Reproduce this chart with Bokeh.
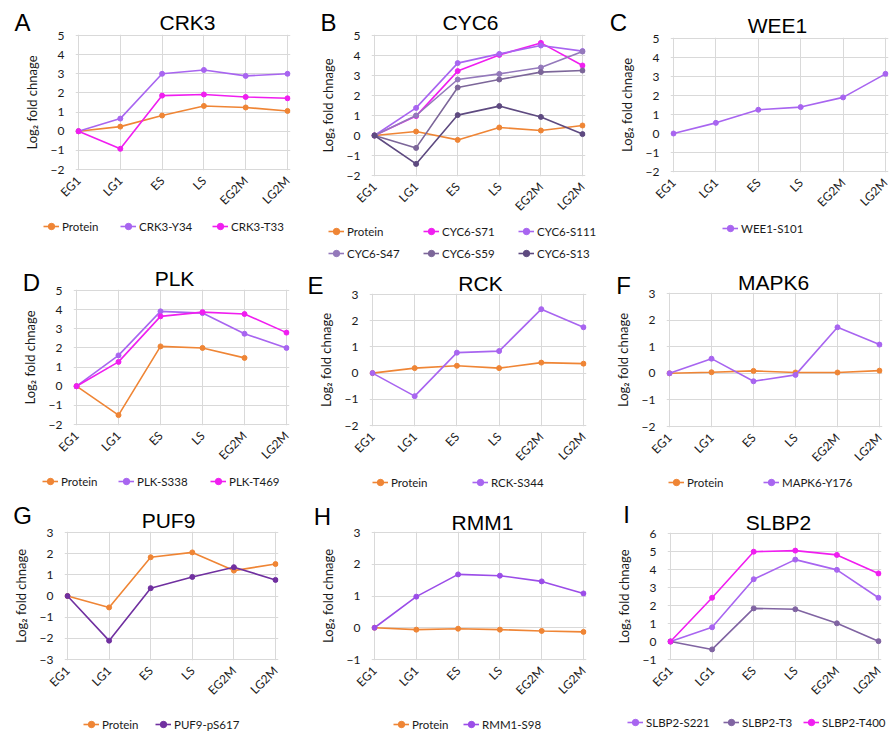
import math
import numpy as np
from bokeh.plotting import figure
from bokeh.models import FixedTicker, Label, Legend, LegendItem, Range1d, Plot
from bokeh.layouts import column, row
from bokeh.embed import file_html
from bokeh.resources import INLINE

# ---------------- data ----------------
stages = ["EG1", "LG1", "ES", "LS", "EG2M", "LG2M"]

crk3_protein = [0, 0.24, 0.82, 1.32, 1.24, 1.06]
crk3_y34 = [0, 0.66, 3.00, 3.20, 2.89, 3.00]
crk3_t33 = [0, -0.92, 1.86, 1.92, 1.79, 1.72]

cyc6_protein = [0, 0.20, -0.22, 0.40, 0.25, 0.50]
cyc6_s71 = [0, 0.97, 3.22, 4.03, 4.63, 3.50]
cyc6_s111 = [0, 1.38, 3.62, 4.08, 4.50, 4.22]
cyc6_s47 = [0, 1.00, 2.80, 3.08, 3.40, 4.20]
cyc6_s59 = [0, -0.62, 2.40, 2.80, 3.17, 3.25]
cyc6_s13 = [0, -1.42, 1.02, 1.47, 0.93, 0.07]

wee1_s101 = [0, 0.56, 1.25, 1.39, 1.90, 3.14]

plk_protein = [0, -1.51, 2.08, 2.00, 1.48, np.nan]
plk_s338 = [0, 1.61, 3.91, 3.82, 2.74, 2.00]
plk_t469 = [0, 1.27, 3.65, 3.87, 3.77, 2.80]

rck_protein = [0, 0.19, 0.28, 0.19, 0.40, 0.36]
rck_s344 = [0, -0.88, 0.78, 0.84, 2.44, 1.75]

mapk6_protein = [0, 0.04, 0.09, 0.03, 0.03, 0.10]
mapk6_y176 = [0, 0.55, -0.30, -0.06, 1.73, 1.08]

puf9_protein = [0, -0.54, 1.83, 2.06, 1.20, 1.51]
puf9_ps617 = [0, -2.11, 0.37, 0.90, 1.36, 0.76]

rmm1_protein = [0, -0.06, -0.03, -0.06, -0.10, -0.13]
rmm1_s98 = [0, 0.98, 1.68, 1.64, 1.46, 1.08]

slbp2_s221 = [0, 0.79, 3.46, 4.55, 3.98, 2.43]
slbp2_t3 = [0, -0.44, 1.84, 1.79, 1.01, 0.02]
slbp2_t400 = [0, 2.43, 4.99, 5.05, 4.81, 3.78]

# ---------------- styles ----------------
ORANGE = "#ef8535"
MAGENTA = "#f01ef0"
LPURPLE = "#a865f0"
PURPLE_S47 = "#9479bb"
PURPLE_S59 = "#7c6699"
PURPLE_S13 = "#5e4a80"
GPURPLE = "#8064a2"
DPURPLE = "#7030a0"
RPURPLE = "#9b4de8"
GRID = "#d9d9d9"
TXT = "#1a1a1a"

# layout in page pixels
COLS = [(0, 295), (295, 301), (596, 294)]
ROWS = [(0, 260), (260, 240), (500, 232)]
PX, PY = 3, 1
TOPB = 8      # room above the plot frame for the top tick label
OV = 16       # header strip extends under the (transparent) top of the chart
FA = {"frame_align": False} if "frame_align" in Plot.properties() else {}


def blank_fig(w, h):
    f = figure(width=w, height=h, x_range=Range1d(0, w), y_range=Range1d(0, h),
               x_axis_type=None, y_axis_type=None, title=None, min_border=0,
               toolbar_location=None, output_backend="svg", **FA)
    f.outline_line_color = None
    f.background_fill_color = "white"
    f.border_fill_color = "white"
    return f


def make_cell(letter, title, series, ylo, yhi, col, rw, frame,
              letter_pos, title_pos, legend_rows):
    cx, cw = COLS[col]
    ry, rh = ROWS[rw]
    fl, ft, fr, fb = frame
    ppx = (fr - fl) / 5.0
    ppy = (fb - ft) / float(yhi - ylo)
    al, at, ar, ab = fl - PX, ft - PY, fr + PX, fb + PY
    main_top = at - TOPB
    leg_top = min(y for y, _ in legend_rows) - 10
    hh = main_top + OV - ry
    mh = leg_top - main_top
    lh = ry + rh - leg_top

    # ---- header: panel letter + gene name
    head = blank_fig(cw, hh)
    head.add_layout(Label(x=letter_pos[0] - cx, y=hh - (letter_pos[1] - ry),
                          text=letter, text_align="center",
                          text_baseline="middle", text_font="Liberation Sans",
                          text_font_size="24px", text_color="black"))
    head.add_layout(Label(x=title_pos[0] - cx, y=hh - (title_pos[1] - ry),
                          text=title, text_align="center",
                          text_baseline="middle", text_font="Liberation Sans",
                          text_font_size="21px", text_color="black"))

    # ---- main chart
    p = figure(width=cw, height=mh, title=None,
               x_range=Range1d(-PX / ppx, 5 + PX / ppx),
               y_range=Range1d(ylo - PY / ppy, yhi + PY / ppy),
               output_backend="svg", toolbar_location=None,
               min_border_left=al - cx, min_border_right=cx + cw - ar,
               min_border_top=TOPB, min_border_bottom=leg_top - ab,
               margin=(-OV, 0, 0, 0), **FA)
    p.outline_line_color = None
    p.background_fill_color = "white"
    p.border_fill_color = None
    xt = FixedTicker(ticks=list(range(6)))
    yt = FixedTicker(ticks=list(range(ylo, yhi + 1)))
    p.xaxis.ticker = xt
    p.yaxis.ticker = yt
    p.xgrid.ticker = xt
    p.ygrid.ticker = yt
    p.grid.grid_line_color = GRID
    p.grid.grid_line_width = 1
    p.xaxis.major_label_overrides = {i: s for i, s in enumerate(stages)}
    p.xaxis.major_label_orientation = math.pi / 4
    for ax in (p.xaxis, p.yaxis):
        ax.axis_line_color = None
        ax.major_tick_line_color = None
        ax.minor_tick_line_color = None
        ax.major_tick_out = 0
        ax.major_tick_in = 0
        ax.major_label_text_font = "Lato"
        ax.major_label_text_font_size = "12px"
        ax.major_label_text_color = TXT
    p.xaxis.major_label_standoff = 8
    p.yaxis.major_label_standoff = 11
    p.yaxis.axis_label = "Log\u2082 fold chnage"
    p.yaxis.axis_label_text_font = "Lato"
    p.yaxis.axis_label_text_font_size = "13px"
    p.yaxis.axis_label_text_font_style = "normal"
    p.yaxis.axis_label_text_color = TXT
    p.yaxis.axis_label_standoff = 8

    xs = list(range(6))
    for name, vals, color in series:
        p.line(xs, vals, line_color=color, line_width=1.6)
        p.scatter(xs, vals, size=5, fill_color=color, line_color=color)

    # ---- legend strip; its series copies are mapped off-view, only the
    #      legend swatches are visible
    lf = blank_fig(cw, lh)
    lf.extra_y_ranges = {"off": Range1d(1000, 1001)}
    k = 0
    for (ly_, xstarts) in legend_rows:
        for (name, vals, color), x0 in zip(series[k:k + len(xstarts)], xstarts):
            rl = lf.line(xs, vals, line_color=color, line_width=1.6,
                         y_range_name="off")
            rs = lf.scatter(xs, vals, size=5, fill_color=color,
                            line_color=color, y_range_name="off")
            leg = Legend(items=[LegendItem(label=name, renderers=[rl, rs])],
                         location=(x0 - cx, leg_top + lh - ly_ - 8),
                         orientation="horizontal", padding=0, margin=0,
                         spacing=0, glyph_width=16, glyph_height=16,
                         label_height=16, label_width=10, label_standoff=3,
                         label_text_font="Lato", label_text_font_size="11.5px",
                         label_text_color=TXT, label_text_baseline="middle",
                         border_line_color=None, background_fill_alpha=0)
            lf.add_layout(leg)
        k += len(xstarts)
    return column(head, p, lf, spacing=0)


cA = make_cell("A", "CRK3",
               [("Protein", crk3_protein, ORANGE),
                ("CRK3-Y34", crk3_y34, LPURPLE),
                ("CRK3-T33", crk3_t33, MAGENTA)],
               -2, 5, 0, 0, (78, 35, 287, 169), (22, 22), (187, 22),
               [(226, [43, 120, 212])])
cB = make_cell("B", "CYC6",
               [("Protein", cyc6_protein, ORANGE),
                ("CYC6-S71", cyc6_s71, MAGENTA),
                ("CYC6-S111", cyc6_s111, LPURPLE),
                ("CYC6-S47", cyc6_s47, PURPLE_S47),
                ("CYC6-S59", cyc6_s59, PURPLE_S59),
                ("CYC6-S13", cyc6_s13, PURPLE_S13)],
               -2, 5, 1, 0, (374, 35, 582, 175), (328, 22), (470, 22),
               [(231, [328, 423, 518]), (253, [328, 423, 518])])
cC = make_cell("C", "WEE1",
               [("WEE1-S101", wee1_s101, LPURPLE)],
               -2, 5, 2, 0, (673, 38, 885, 171), (618, 22), (777, 25),
               [(228, [722])])
cD = make_cell("D", "PLK",
               [("Protein", plk_protein, ORANGE),
                ("PLK-S338", plk_s338, LPURPLE),
                ("PLK-T469", plk_t469, MAGENTA)],
               -2, 5, 0, 1, (76, 290, 286, 424), (31, 282), (174, 278),
               [(481, [42, 118, 210])])
cE = make_cell("E", "RCK",
               [("Protein", rck_protein, ORANGE),
                ("RCK-S344", rck_s344, LPURPLE)],
               -2, 3, 1, 1, (372, 294, 583, 425), (315, 285), (480, 283),
               [(482, [372, 472])])
cF = make_cell("F", "MAPK6",
               [("Protein", mapk6_protein, ORANGE),
                ("MAPK6-Y176", mapk6_y176, LPURPLE)],
               -2, 3, 2, 1, (669, 293, 879, 426), (623, 285), (773, 282),
               [(482, [668, 763])])
cG = make_cell("G", "PUF9",
               [("Protein", puf9_protein, ORANGE),
                ("PUF9-pS617", puf9_ps617, DPURPLE)],
               -3, 3, 0, 2, (67, 532, 275, 659), (22, 515), (168, 520),
               [(724, [83, 155])])
cH = make_cell("H", "RMM1",
               [("Protein", rmm1_protein, ORANGE),
                ("RMM1-S98", rmm1_s98, RPURPLE)],
               -1, 3, 1, 2, (374, 532, 583, 659), (322, 516), (482, 522),
               [(724, [393, 463])])
cI = make_cell("I", "SLBP2",
               [("SLBP2-S221", slbp2_s221, LPURPLE),
                ("SLBP2-T3", slbp2_t3, GPURPLE),
                ("SLBP2-T400", slbp2_t400, MAGENTA)],
               -1, 6, 2, 2, (670, 533, 878, 659), (626, 514), (778, 522),
               [(722, [627, 723, 803])])

layout = column(row(cA, cB, cC, spacing=0),
                row(cD, cE, cF, spacing=0),
                row(cG, cH, cI, spacing=0), spacing=0)

open("out.html", "w").write(file_html(layout, INLINE))
